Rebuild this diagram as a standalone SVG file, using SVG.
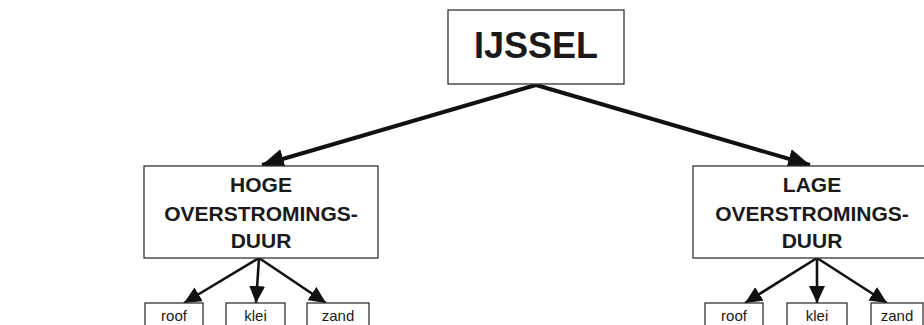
<svg xmlns="http://www.w3.org/2000/svg" width="924" height="325" viewBox="0 0 924 325">
<style>
.box{fill:#fff;stroke:#333;stroke-width:1.3}
.t{font-family:"Liberation Sans",Arial,sans-serif;fill:#1a1a1a;text-anchor:middle}
.b{font-weight:bold}
.big{stroke:#111;stroke-width:4;fill:none}
.sm{stroke:#111;stroke-width:2.6;fill:none}
</style>
<defs>
<marker id="ah" markerUnits="userSpaceOnUse" markerWidth="22" markerHeight="20" refX="22" refY="10" orient="auto"><path d="M0,0 L22,10 L0,20 z" fill="#111"/></marker>
<marker id="as" markerUnits="userSpaceOnUse" markerWidth="17" markerHeight="16" refX="17" refY="8" orient="auto"><path d="M0,0 L17,8 L0,16 z" fill="#111"/></marker>
</defs>
<rect width="924" height="325" fill="#fff"/>
<g id="connectors">
<path class="big" d="M536,85 L262,165" marker-end="url(#ah)"/>
<path class="big" d="M536,85 L810,165" marker-end="url(#ah)"/>
<path class="sm" d="M259,258 L184,303" marker-end="url(#as)"/>
<path class="sm" d="M259,258 L256,303" marker-end="url(#as)"/>
<path class="sm" d="M259,258 L326,303" marker-end="url(#as)"/>
<path class="sm" d="M817,258 L745,303" marker-end="url(#as)"/>
<path class="sm" d="M817,258 L817,303" marker-end="url(#as)"/>
<path class="sm" d="M817,258 L887,303" marker-end="url(#as)"/>
</g>
<g id="ijssel">
<rect class="box" x="448" y="10" width="176" height="74"/>
<text class="t b" x="536" y="58" font-size="36">IJSSEL</text>
</g>
<g id="hoge">
<rect class="box" x="144" y="166" width="234" height="92"/>
<text class="t b" x="261" y="192" font-size="21">HOGE</text>
<text class="t b" x="261" y="221" font-size="21">OVERSTROMINGS-</text>
<text class="t b" x="261" y="248" font-size="21">DUUR</text>
</g>
<g id="lage">
<rect class="box" x="693" y="166" width="236" height="92"/>
<text class="t b" x="812" y="192" font-size="21">LAGE</text>
<text class="t b" x="812" y="221" font-size="21">OVERSTROMINGS-</text>
<text class="t b" x="812" y="248" font-size="21">DUUR</text>
</g>
<g id="hoge-roof">
<rect class="box" x="145" y="303" width="58" height="30"/>
<text class="t" x="174" y="321" font-size="15">roof</text>
</g>
<g id="hoge-klei">
<rect class="box" x="226" y="303" width="59" height="30"/>
<text class="t" x="255.5" y="321" font-size="15">klei</text>
</g>
<g id="hoge-zand">
<rect class="box" x="307" y="303" width="62" height="30"/>
<text class="t" x="338" y="321" font-size="15">zand</text>
</g>
<g id="lage-roof">
<rect class="box" x="705" y="303" width="58" height="30"/>
<text class="t" x="734" y="321" font-size="15">roof</text>
</g>
<g id="lage-klei">
<rect class="box" x="787" y="303" width="60" height="30"/>
<text class="t" x="817" y="321" font-size="15">klei</text>
</g>
<g id="lage-zand">
<rect class="box" x="871" y="303" width="52" height="30"/>
<text class="t" x="897" y="321" font-size="15">zand</text>
</g>
</svg>
